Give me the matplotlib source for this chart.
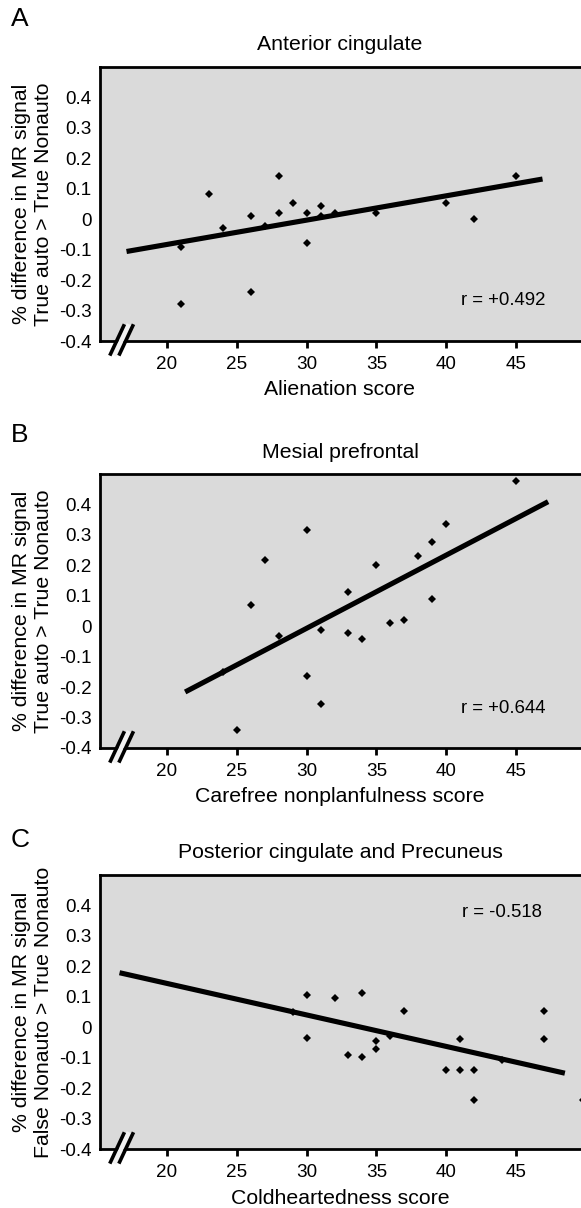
import matplotlib
matplotlib.use("Agg")
import matplotlib.pyplot as plt
from matplotlib.lines import Line2D

plt.rcParams['font.family'] = ['Liberation Sans', 'DejaVu Sans']

# ---------------- data ----------------
a_x = [21, 21, 23, 24, 26, 26, 27, 28, 28, 29, 30, 30, 31, 31, 32, 35, 40, 42, 45]
a_y = [-0.09, -0.28, 0.082, -0.029, 0.011, -0.24, -0.021, 0.143, 0.021, 0.053,
       0.021, -0.078, 0.044, 0.012, 0.022, 0.02, 0.052, 0.001, 0.143]
a_fit_x = [17.1, 46.9]
a_fit_y = [-0.106, 0.132]

b_x = [45, 40, 39, 38, 35, 30, 27, 26, 33, 39, 36, 37, 31, 33, 34, 28, 24, 30, 31, 25]
b_y = [0.477, 0.337, 0.276, 0.232, 0.202, 0.315, 0.216, 0.07, 0.112, 0.091,
       0.009, 0.019, -0.011, -0.022, -0.041, -0.033, -0.152, -0.165, -0.257, -0.34]
b_fit_x = [21.3, 47.3]
b_fit_y = [-0.216, 0.409]

c_x = [30, 32, 34, 37, 47, 47, 29, 30, 33, 34, 35, 35, 36, 41, 40, 41, 42, 42, 44, 49.8]
c_y = [0.105, 0.095, 0.114, 0.052, 0.052, -0.039, 0.051, -0.036, -0.091, -0.097,
       -0.045, -0.072, -0.029, -0.04, -0.139, -0.139, -0.139, -0.239, -0.108, -0.239]
c_fit_x = [16.6, 48.5]
c_fit_y = [0.179, -0.151]

panels = ['A', 'B', 'C']
titles = ['Anterior cingulate', 'Mesial prefrontal', 'Posterior cingulate and Precuneus']
xlabels = ['Alienation score', 'Carefree nonplanfulness score', 'Coldheartedness score']
ylabels = ['% difference in MR signal\nTrue auto > True Nonauto',
           '% difference in MR signal\nTrue auto > True Nonauto',
           '% difference in MR signal\nFalse Nonauto > True Nonauto']
r_texts = ['r = +0.492', 'r = +0.644', 'r = -0.518']
r_pos = [(44.1, -0.268), (44.1, -0.271), (44.0, 0.378)]
xticks = [20, 25, 30, 35, 40, 45]
yticks = [-0.4, -0.3, -0.2, -0.1, 0, 0.1, 0.2, 0.3, 0.4]
yticklabels = ['-0.4', '-0.3', '-0.2', '-0.1', '0', '0.1', '0.2', '0.3', '0.4']

xs = [a_x, b_x, c_x]
ys = [a_y, b_y, c_y]
fxs = [a_fit_x, b_fit_x, c_fit_x]
fys = [a_fit_y, b_fit_y, c_fit_y]

# ---------------- layout ----------------
W, H = 581, 1208
fig = plt.figure(figsize=(W / 100, H / 100), dpi=100)
fig.patch.set_facecolor('white')

ax_left_px = 100
xlim = (15.2, 50.5)
px_per_unit = 13.96
ax_right_px = ax_left_px + (xlim[1] - xlim[0]) * px_per_unit
ax_h_px = 274
ax_bottoms_px = [341, 748, 1149]
title_y_px = [45, 452, 853]
xlabel_y_px = [390, 797, 1198]
letter_y_px = [19, 435, 840]
center_x = 340 / W
ylabel_x_px = 33

fs_tick = 13.6
fs_lab = 15.3
fs_r = 13.4
for i in range(3):
    b = ax_bottoms_px[i]
    ax = fig.add_axes([ax_left_px / W, (H - b) / H,
                       (ax_right_px - ax_left_px) / W, ax_h_px / H])
    ax.set_facecolor('#dadada')
    ax.set_xlim(*xlim)
    ax.set_ylim(-0.4, 0.5)
    for s in ax.spines.values():
        s.set_linewidth(2.0)
        s.set_color('black')
    ax.set_xticks(xticks)
    ax.set_xticklabels([str(t) for t in xticks], fontsize=fs_tick)
    ax.set_yticks(yticks)
    ax.set_yticklabels(yticklabels, fontsize=fs_tick)
    ax.tick_params(axis='x', direction='out', length=5, width=2.0, pad=6)
    ax.tick_params(axis='y', length=0, pad=6)

    ax.plot(fxs[i], fys[i], color='black', lw=3.7, solid_capstyle='butt', zorder=2)
    ax.plot(xs[i], ys[i], linestyle='none', marker='D', ms=4.3, color='black',
            markeredgewidth=0, zorder=3, clip_on=True)

    ax.text(r_pos[i][0], r_pos[i][1], r_texts[i], fontsize=fs_r, ha='center', va='center')

    # axis break marks
    brk = [((15.9, 16.95), (-0.448, -0.345)), ((16.55, 17.6), (-0.448, -0.345))]
    ax.add_line(Line2D([16.22, 17.28], [-0.448, -0.345], color='#f2f2f2', lw=3.5,
                       clip_on=False, zorder=5, solid_capstyle='butt'))
    for bx, by in brk:
        ax.add_line(Line2D(bx, by, color='black', lw=2.6, clip_on=False, zorder=6,
                           solid_capstyle='butt'))

    ax_center_y = 1 - (b - ax_h_px / 2) / H
    fig.text(ylabel_x_px / W, ax_center_y, ylabels[i], fontsize=fs_lab, rotation=90,
             ha='center', va='center', multialignment='center', linespacing=1.2)
    fig.text(center_x, 1 - title_y_px[i] / H, titles[i], fontsize=fs_lab, ha='center', va='center')
    fig.text(center_x, 1 - xlabel_y_px[i] / H, xlabels[i], fontsize=fs_lab, ha='center', va='center')
    fig.text(20 / W, 1 - letter_y_px[i] / H, panels[i], fontsize=19, ha='center', va='center')

fig.savefig('out.png', dpi=100)
